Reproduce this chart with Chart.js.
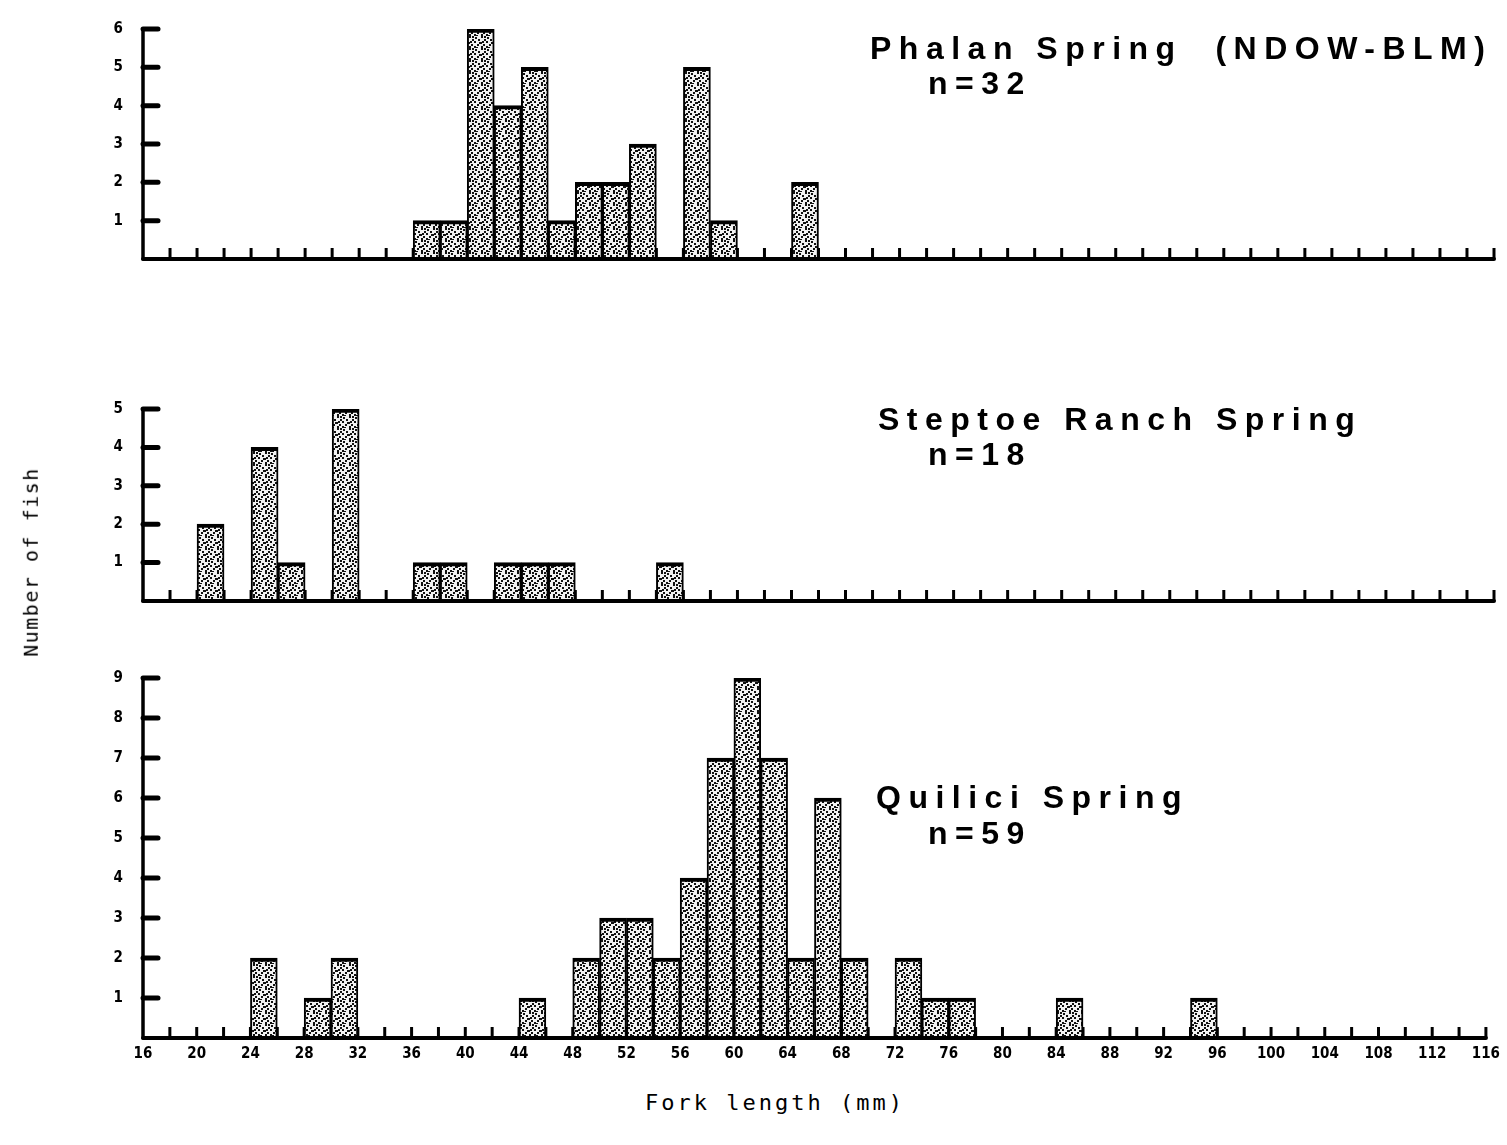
<!DOCTYPE html>
<html>
<head>
<meta charset="utf-8">
<script src="https://cdn.jsdelivr.net/npm/chart.js@4.4.1/dist/chart.umd.min.js"></script>
<style>
  body { margin: 0; background: #fff; width: 1507px; height: 1145px; position: relative; overflow: hidden; }
  .panel { position: absolute; left: 0; width: 1507px; }
  .lbl { position: absolute; font-family: "Liberation Sans", Arial, sans-serif; font-weight: bold; font-size: 32px; letter-spacing: 7.5px; color: #000; white-space: pre; line-height: 1; }
  .axt { position: absolute; font-family: "DejaVu Sans Mono", monospace; font-size: 22px; color: #000; white-space: pre; letter-spacing: 3px; }
</style>
</head>
<body>
<div class="panel" style="top:0px;height:290px"><canvas id="phalan"></canvas></div>
<div class="panel" style="top:380px;height:250px"><canvas id="steptoe"></canvas></div>
<div class="panel" style="top:640px;height:440px"><canvas id="quilici"></canvas></div>

<div class="lbl" style="left:870px;top:32px">Phalan Spring  (NDOW-BLM)</div>
<div class="lbl" style="left:928px;top:67px">n=32</div>
<div class="lbl" style="left:878px;top:403px">Steptoe Ranch Spring</div>
<div class="lbl" style="left:928px;top:438px">n=18</div>
<div class="lbl" style="left:876px;top:781px">Quilici Spring</div>
<div class="lbl" style="left:928px;top:817px">n=59</div>

<div class="axt" style="left:645px;top:1090px">Fork length (mm)</div>
<div class="axt" style="top:562px;left:-64px;font-size:20px;letter-spacing:1.5px;transform:translate(0,-50%) rotate(-90deg);transform-origin:center">Number of fish</div>

<script>
// 2 mm length classes, left edge of each class
const binStarts = [16, 18, 20, 22, 24, 26, 28, 30, 32, 34, 36, 38, 40, 42, 44, 46, 48, 50, 52, 54,
                   56, 58, 60, 62, 64, 66, 68, 70, 72, 74, 76, 78, 80, 82, 84, 86, 88, 90, 92, 94,
                   96, 98, 100, 102, 104, 106, 108, 110, 112, 114];

const phalanCounts  = [0, 0, 0, 0, 0, 0, 0, 0, 0, 0, 1, 1, 6, 4, 5, 1, 2, 2, 3, 0,
                       5, 1, 0, 0, 2, 0, 0, 0, 0, 0, 0, 0, 0, 0, 0, 0, 0, 0, 0, 0,
                       0, 0, 0, 0, 0, 0, 0, 0, 0, 0];
const steptoeCounts = [0, 0, 2, 0, 4, 1, 0, 5, 0, 0, 1, 1, 0, 1, 1, 1, 0, 0, 0, 1,
                       0, 0, 0, 0, 0, 0, 0, 0, 0, 0, 0, 0, 0, 0, 0, 0, 0, 0, 0, 0,
                       0, 0, 0, 0, 0, 0, 0, 0, 0, 0];
const quiliciCounts = [0, 0, 0, 0, 2, 0, 1, 2, 0, 0, 0, 0, 0, 0, 1, 0, 2, 3, 3, 2,
                       4, 7, 9, 7, 2, 6, 2, 0, 2, 1, 1, 0, 0, 0, 1, 0, 0, 0, 0, 1,
                       0, 0, 0, 0, 0, 0, 0, 0, 0, 0];

const xTickLabels = [16, 20, 24, 28, 32, 36, 40, 44, 48, 52, 56, 60, 64, 68, 72, 76, 80, 84, 88, 92, 96, 100, 104, 108, 112, 116];

// stipple fill for the bars
function makeStipple() {
    const c = document.createElement('canvas');
    c.width = 12; c.height = 12;
    const g = c.getContext('2d');
    g.fillStyle = '#f2f2f2';
    g.fillRect(0, 0, 12, 12);
    g.fillStyle = '#111';
    const dots = [[1,0],[7,1],[4,3],[10,3],[0,6],[6,5],[3,8],[9,8],[1,10],[6,10],[11,6],[8,11],[4,0],[2,5]];
    dots.forEach(d => g.fillRect(d[0], d[1], 2, 2));
    return g.createPattern(c, 'repeat');
}
const stipple = makeStipple();

// tick marks: x ticks point up into the plot, y ticks point right
const tickMarks = {
    id: 'tickMarks',
    beforeDatasetsDraw(chart) {
        const ctx = chart.ctx;
        const xs = chart.scales.x, ys = chart.scales.y;
        const base = ys.getPixelForValue(0);
        ctx.save();
        ctx.strokeStyle = '#000';
        ctx.lineWidth = 3;
        for (let v = 18; v <= 116; v += 2) {
            const px = xs.getPixelForValue(v);
            ctx.beginPath();
            ctx.moveTo(px, base);
            ctx.lineTo(px, base - 11);
            ctx.stroke();
        }
        ctx.lineWidth = 5;
        ctx.lineCap = 'round';
        const left = xs.getPixelForValue(16);
        for (let v = 1; v <= ys.max; v++) {
            const py = ys.getPixelForValue(v);
            ctx.beginPath();
            ctx.moveTo(left, py);
            ctx.lineTo(left + 15, py);
            ctx.stroke();
        }
        ctx.restore();
    },
    afterDraw(chart) {
        const ctx = chart.ctx;
        const xs = chart.scales.x, ys = chart.scales.y;
        const base = ys.getPixelForValue(0);
        ctx.save();
        ctx.strokeStyle = '#000';
        ctx.lineCap = 'round';
        ctx.lineWidth = 4;
        ctx.beginPath();
        ctx.moveTo(xs.getPixelForValue(16), base);
        ctx.lineTo(xs.getPixelForValue(116), base);
        ctx.stroke();
        ctx.lineWidth = 3.5;
        ctx.beginPath();
        ctx.moveTo(xs.getPixelForValue(16), base);
        ctx.lineTo(xs.getPixelForValue(16), ys.getPixelForValue(ys.max));
        ctx.stroke();
        ctx.restore();
    }
};

function makeHist(id, counts, yMax, padTop, xAxisHeight, showLabels) {
    const points = [];
    binStarts.forEach((b, i) => {
        if (counts[i] > 0) points.push({ x: b + 1, y: counts[i] });
    });
    return new Chart(document.getElementById(id), {
        type: 'bar',
        data: {
            datasets: [{
                data: points,
                backgroundColor: stipple,
                borderColor: '#000',
                borderWidth: { top: 4, left: 2, right: 2, bottom: 0 },
                borderSkipped: 'bottom',
                barPercentage: 1,
                categoryPercentage: 1
            }]
        },
        options: {
            responsive: true,
            maintainAspectRatio: false,
            animation: false,
            layout: { padding: { top: padTop, right: 13, left: 0, bottom: 0 } },
            scales: {
                x: {
                    type: 'linear',
                    min: 16,
                    max: 116,
                    offset: false,
                    afterFit(s) { s.height = xAxisHeight; },
                    afterBuildTicks(s) { s.ticks = xTickLabels.map(v => ({ value: v })); },
                    grid: { display: false, drawTicks: false },
                    border: { display: false },
                    ticks: {
                        display: showLabels,
                        autoSkip: false,
                        maxRotation: 0,
                        padding: 7,
                        color: '#000',
                        font: { family: 'DejaVu Sans Condensed', size: 15, weight: 'bold' }
                    }
                },
                y: {
                    min: 0,
                    max: yMax,
                    afterFit(s) { s.width = 143; },
                    grid: { display: false, drawTicks: false },
                    border: { display: false },
                    ticks: {
                        stepSize: 1,
                        padding: 20,
                        color: '#000',
                        font: { family: 'DejaVu Sans Condensed', size: 15, weight: 'bold' },
                        callback: v => v === 0 ? '' : v
                    }
                }
            },
            plugins: {
                legend: { display: false },
                tooltip: { enabled: false }
            }
        },
        plugins: [tickMarks]
    });
}

makeHist('phalan', phalanCounts, 6, 18, 31, false);
makeHist('steptoe', steptoeCounts, 5, 27, 26, false);
makeHist('quilici', quiliciCounts, 9, 38, 42, true);
</script>
</body>
</html>
